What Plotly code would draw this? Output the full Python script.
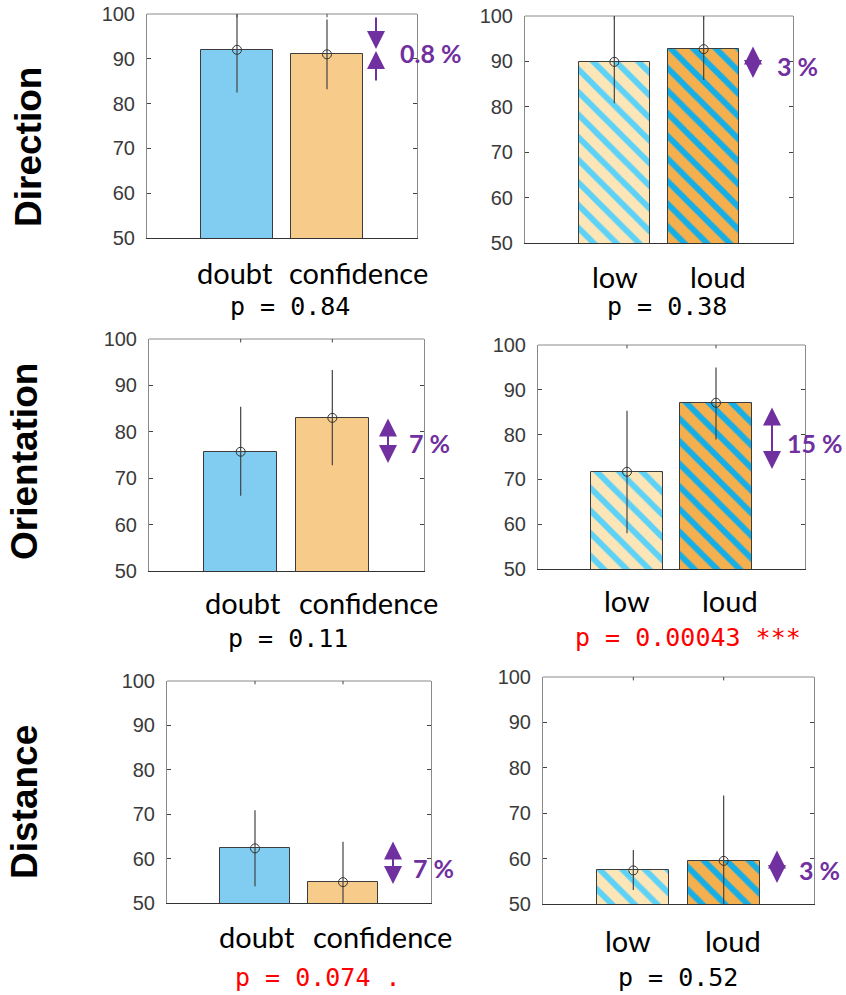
import plotly.graph_objects as go

W, H = 846, 995

# ---------------- data ----------------
cats_conf = ["doubt", "confidence"]
cats_noise = ["low", "loud"]
x_pos = [1, 2]
y_ticks = [50, 60, 70, 80, 90, 100]

dir_conf_mean = [92.0, 91.0]
dir_conf_hi = [101.0, 98.8]
dir_conf_lo = [82.5, 83.2]

dir_noise_mean = [89.9, 92.7]
dir_noise_hi = [100.5, 100.5]
dir_noise_lo = [80.8, 85.9]

ori_conf_mean = [75.7, 83.0]
ori_conf_hi = [85.4, 93.3]
ori_conf_lo = [66.2, 72.8]

ori_noise_mean = [71.7, 87.1]
ori_noise_hi = [85.3, 95.0]
ori_noise_lo = [58.0, 78.9]

dis_conf_mean = [62.3, 54.7]
dis_conf_hi = [70.9, 63.8]
dis_conf_lo = [53.8, 47.0]

dis_noise_mean = [57.4, 59.5]
dis_noise_hi = [61.9, 73.9]
dis_noise_lo = [53.1, 47.0]

p_texts = ["p = 0.84", "p = 0.38", "p = 0.11", "p = 0.00043 ***", "p = 0.074 .", "p = 0.52"]
p_significant = [False, False, False, True, True, False]
diff_labels = ["0.8 %", "3 %", "7 %", "15 %", "7 %", "3 %"]
row_labels = ["Direction", "Orientation", "Distance"]

# ---------------- styles ----------------
C_DOUBT = "#80CDF1"
C_CONF = "#F7CB89"
LOW_BG, LOW_FG = "#FCE6B8", "#5DD2F6"
LOUD_BG, LOUD_FG = "#F4AF4E", "#16AEE4"
PURPLE = "#7030A0"
EDGE = "#3c3c3c"
BOX = "#8a8a8a"


def px(x):
    return x / W


def py(y):
    return 1 - y / H


# pixel geometry of each panel
panels = [
    dict(box=(147, 417, 14, 238), data=(dir_conf_mean, dir_conf_hi, dir_conf_lo), cats=cats_conf, kind="conf",
         lab=[(235, 273), (358, 273)], p=(290, 307), diff=(431, 53, "center"),
         arrows=[("conv", 376, 16, 50, 82)]),
    dict(box=(525, 793, 16, 243), data=(dir_noise_mean, dir_noise_hi, dir_noise_lo), cats=cats_noise, kind="noise",
         lab=[(615, 276), (718, 276)], p=(667, 307), diff=(797, 66, "center"),
         arrows=[("dbl", 753, 45, 78, True)]),
    dict(box=(149, 424, 339, 571), data=(ori_conf_mean, ori_conf_hi, ori_conf_lo), cats=cats_conf, kind="conf",
         lab=[(243, 602), (368, 602)], p=(288, 638), diff=(429, 443, "center"),
         arrows=[("dbl", 388, 417, 463, False)]),
    dict(box=(538, 805, 345, 569), data=(ori_noise_mean, ori_noise_hi, ori_noise_lo), cats=cats_noise, kind="noise",
         lab=[(627, 600), (730, 600)], p=(688, 637), diff=(845, 443, "right"),
         arrows=[("dbl", 772, 406, 469, False)]),
    dict(box=(167, 431, 681, 903), data=(dis_conf_mean, dis_conf_hi, dis_conf_lo), cats=cats_conf, kind="conf",
         lab=[(257, 936), (382, 936)], p=(318, 977), diff=(434, 868, "center"),
         arrows=[("dbl", 393, 840, 884, False)]),
    dict(box=(543, 814, 677, 904), data=(dis_noise_mean, dis_noise_hi, dis_noise_lo), cats=cats_noise, kind="noise",
         lab=[(628, 940), (733, 940)], p=(678, 977), diff=(819, 870, "center"),
         arrows=[("dbl", 777, 849, 883, True)]),
]

fig = go.Figure()
annotations = []
shapes = []

for i, pnl in enumerate(panels):
    n = i + 1
    xa = "x" if n == 1 else f"x{n}"
    ya = "y" if n == 1 else f"y{n}"
    x0, x1, y0, y1 = pnl["box"]
    mean, hi, lo = pnl["data"]

    for j in range(2):
        if pnl["kind"] == "conf":
            marker = dict(color=[C_DOUBT, C_CONF][j], line=dict(color=EDGE, width=1))
        else:
            bg = [LOW_BG, LOUD_BG][j]
            fg = [LOW_FG, LOUD_FG][j]
            marker = dict(color=bg, line=dict(color=EDGE, width=1),
                          pattern=dict(shape="\\", fillmode="replace", bgcolor=bg, fgcolor=fg,
                                       size=16, solidity=0.36))
        fig.add_trace(go.Bar(x=[x_pos[j]], y=[mean[j]], width=0.8, marker=marker,
                             xaxis=xa, yaxis=ya, showlegend=False, hoverinfo="skip"))

    fig.add_trace(go.Scatter(
        x=x_pos, y=mean, mode="markers",
        marker=dict(symbol="circle-open", size=9, color="#333333", line=dict(width=1)),
        error_y=dict(type="data", symmetric=False,
                     array=[h - m for h, m in zip(hi, mean)],
                     arrayminus=[m - l for m, l in zip(mean, lo)],
                     color="#444444", thickness=1.2, width=0),
        xaxis=xa, yaxis=ya, showlegend=False, hoverinfo="skip"))

    xkey = "xaxis" if n == 1 else f"xaxis{n}"
    ykey = "yaxis" if n == 1 else f"yaxis{n}"
    fig.layout[xkey] = dict(domain=[px(x0), px(x1)], anchor=ya, range=[0, 3], automargin=False,
                            showticklabels=False, ticks="", showgrid=False, zeroline=False,
                            showline=True, linecolor="#333333", linewidth=1.2)
    fig.layout[ykey] = dict(domain=[py(y1), py(y0)], anchor=xa, range=[50, 100], automargin=False,
                            tickvals=y_ticks, ticks="inside", ticklen=4, tickcolor="#444444",
                            showline=True, linecolor=BOX, linewidth=1, mirror="ticks",
                            showgrid=False, zeroline=False, ticklabelstandoff=7,
                            tickfont=dict(family="Liberation Sans, Arial", size=20, color="#3a3a3a"))

    # top border and top category ticks
    shapes.append(dict(type="line", xref=f"{xa} domain", yref=f"{ya} domain",
                       x0=0, x1=1, y0=1, y1=1, line=dict(color=BOX, width=1)))
    for xv in x_pos:
        shapes.append(dict(type="line", xref=xa, yref=f"{ya} domain",
                           x0=xv, x1=xv, y0=1, y1=0.985, line=dict(color="#444444", width=1)))

    # category labels
    for (lx, ly), txt in zip(pnl["lab"], pnl["cats"]):
        annotations.append(dict(x=px(lx), y=py(ly), xref="paper", yref="paper", text=txt,
                                showarrow=False, xanchor="center", yanchor="middle",
                                font=dict(family="Lato", size=29, color="black")))
    # p value
    annotations.append(dict(x=px(pnl["p"][0]), y=py(pnl["p"][1]), xref="paper", yref="paper",
                            text=p_texts[i], showarrow=False, xanchor="center", yanchor="middle",
                            font=dict(family="DejaVu Sans Mono", size=25,
                                      color="#FF0000" if p_significant[i] else "black")))
    # difference label
    dx, dy, anc = pnl["diff"]
    annotations.append(dict(x=px(dx), y=py(dy), xref="paper", yref="paper", text=f"<b>{diff_labels[i]}</b>",
                            showarrow=False, xanchor=anc, yanchor="middle",
                            font=dict(family="Lato", size=25, color=PURPLE)))
    # arrows
    for arr in pnl["arrows"]:
        if arr[0] == "conv":
            _, ax_, top, mid, bot = arr
            annotations.append(dict(x=px(ax_), y=py(mid - 1), xref="paper", yref="paper", text="",
                                    showarrow=True, ax=0, ay=-(mid - 1 - top), arrowhead=2, arrowsize=1.8,
                                    arrowwidth=2, arrowcolor=PURPLE))
            annotations.append(dict(x=px(ax_), y=py(mid + 1), xref="paper", yref="paper", text="",
                                    showarrow=True, ax=0, ay=(bot - mid - 1), arrowhead=2, arrowsize=1.8,
                                    arrowwidth=2, arrowcolor=PURPLE))
        else:
            _, ax_, top, bot, midline = arr
            annotations.append(dict(x=px(ax_), y=py(bot), xref="paper", yref="paper", text="",
                                    showarrow=True, ax=0, ay=-(bot - top), arrowhead=2, arrowsize=1.8,
                                    arrowwidth=2, arrowcolor=PURPLE, arrowside="end+start",
                                    standoff=0, startstandoff=0))
            if midline:
                m = (top + bot) / 2
                shapes.append(dict(type="line", xref="paper", yref="paper",
                                   x0=px(ax_ - 9), x1=px(ax_ + 9), y0=py(m), y1=py(m),
                                   line=dict(color="white", width=1)))

# row labels
for txt, (rx, ry) in zip(row_labels, [(28, 147), (24, 462), (24, 802)]):
    annotations.append(dict(x=px(rx), y=py(ry), xref="paper", yref="paper", text=f"<b>{txt}</b>",
                            showarrow=False, textangle=-90, xanchor="center", yanchor="middle",
                            font=dict(family="Liberation Sans, Arial", size=37, color="black")))

fig.update_layout(width=W, height=H, margin=dict(l=0, r=0, t=0, b=0, pad=0, autoexpand=False),
                  paper_bgcolor="white", plot_bgcolor="white",
                  annotations=annotations, shapes=shapes, bargap=0)

fig.write_html("out.html", config={"displayModeBar": False},
               post_script="document.body.style.margin='0px';document.body.style.overflow='hidden';")
